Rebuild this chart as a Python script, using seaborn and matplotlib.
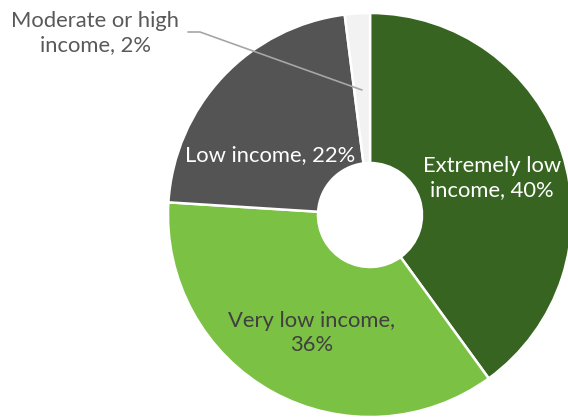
import matplotlib.pyplot as plt
import seaborn as sns

sns.set_theme(style="white")
plt.rcParams["font.family"] = ["Lato", "DejaVu Sans"]

categories = ["Extremely low income", "Very low income", "Low income", "Moderate or high income"]
shares = [40, 36, 22, 2]
label_texts = ["Extremely low\nincome, 40%", "Very low income,\n36%", "Low income, 22%", "Moderate or high\nincome, 2%"]

COLORS = ["#376521", "#7BC143", "#545454", "#F2F2F2"]
TEXT_COLORS = ["white", "#404040", "white", "#595959"]
FONT_SIZE = 15.8

W, H = 568, 417
fig = plt.figure(figsize=(W / 100, H / 100), dpi=100)
ax = fig.add_axes([0, 0, 1, 1])

cx, cy, radius = 370, H - 215, 202
ax.pie(
    shares,
    colors=COLORS,
    startangle=90,
    counterclock=False,
    center=(cx, cy),
    radius=radius,
    wedgeprops=dict(width=radius - 52, edgecolor="white", linewidth=1.8),
    frame=True,
)
ax.set_xlim(0, W)
ax.set_ylim(0, H)
ax.set_aspect("equal")
ax.axis("off")

# label positions in pixels (image coords, y down)
label_pos = [(492, 178), (312, 333), (270, 155), (95, 33)]
for text, (x, y), col in zip(label_texts, label_pos, TEXT_COLORS):
    ax.text(x, H - y, text, ha="center", va="center", color=col,
            fontsize=FONT_SIZE, linespacing=1.3)

# leader line for the small slice
ax.plot([188, 200, 362], [H - 32, H - 32, H - 90], color="#A6A6A6", linewidth=1.2)

fig.savefig("out.png", dpi=100)
